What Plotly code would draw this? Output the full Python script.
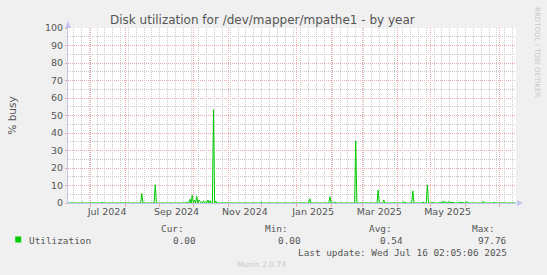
import pandas as pd
import plotly.graph_objects as go

# ---------------- data ----------------
range_start = "2024-06-11 02:05"
range_end = "2025-07-16 02:05"

# non-zero daily averages (% busy)
spike_dates = [
    "2024-06-24", "2024-07-11", "2024-08-16", "2024-08-28",
    "2024-09-25", "2024-09-28", "2024-09-30", "2024-10-02", "2024-10-04",
    "2024-10-06", "2024-10-07", "2024-10-10", "2024-10-12", "2024-10-14",
    "2024-10-16", "2024-10-19", "2024-10-21",
    "2024-11-30", "2025-01-13", "2025-01-31", "2025-02-04", "2025-02-23",
    "2025-03-15", "2025-03-20", "2025-04-06", "2025-04-07", "2025-04-08",
    "2025-04-15", "2025-04-24", "2025-04-28", "2025-05-02",
    "2025-05-09", "2025-05-11", "2025-05-13", "2025-05-15", "2025-05-17",
    "2025-05-19", "2025-05-21", "2025-05-24", "2025-05-27", "2025-05-29",
    "2025-06-02", "2025-06-17", "2025-06-26",
]
spike_values = [
    0.6, 0.5, 5.4, 10.4,
    0.7, 2.1, 4.4, 1.7, 3.8,
    1.7, 1.1, 1.3, 0.8, 1.7,
    1.3, 53.3, 1.1,
    0.5, 2.4, 3.6, 0.5, 35.4,
    7.4, 1.7, 0.5, 0.6, 0.5,
    6.9, 0.6, 10.3, 0.6,
    0.5, 0.8, 1.0, 0.7, 0.9,
    0.6, 0.7, 0.5, 0.8, 0.4,
    1.0, 1.0, 0.5,
]

month_starts = [
    "2024-07-01", "2024-08-01", "2024-09-01", "2024-10-01", "2024-11-01",
    "2024-12-01", "2025-01-01", "2025-02-01", "2025-03-01", "2025-04-01",
    "2025-05-01", "2025-06-01", "2025-07-01",
]
label_dates = ["2024-07-16", "2024-09-16", "2024-11-16", "2025-01-16", "2025-03-16", "2025-05-16"]
label_texts = ["Jul 2024", "Sep 2024", "Nov 2024", "Jan 2025", "Mar 2025", "May 2025"]

legend_name = "Utilization"
stat_names = ["Cur:", "Min:", "Avg:", "Max:"]
stat_values = ["0.00", "0.00", "0.54", "97.76"]

# daily series: days without a reading above are 0
days = pd.date_range("2024-06-11", "2025-07-16", freq="D")
series = pd.Series(0.0, index=days)
for d, v in zip(spike_dates, spike_values):
    series[pd.Timestamp(d)] = v

# ---------------- geometry helpers ----------------
W, H = 547, 275
L, R, T, B = 66, 516, 28, 203


def px(x):
    return (x - L) / (R - L)


def py(y):
    return (B - y) / (B - T)


RED = "#eeaaaa"
GRAY = "#cccccc"
AXIS = "#c4c4f0"
TXT = "#555555"
MONO = "DejaVu Sans Mono"
SANS = "DejaVu Sans"
DOT = "1px,1px"

fig = go.Figure()
fig.add_trace(go.Scatter(
    x=series.index, y=series.values, mode="lines",
    line=dict(color="#00cc00", width=1), showlegend=False, hoverinfo="skip",
))
fig.add_trace(go.Scatter(
    x=[range_start, range_end], y=[None, None], xaxis="x2",
    showlegend=False, hoverinfo="skip",
))

fig.update_layout(
    width=W, height=H,
    margin=dict(l=L, r=W - R, t=T, b=H - B, pad=0),
    paper_bgcolor="#f0f0f0", plot_bgcolor="#ffffff",
    font=dict(family=SANS, size=9, color=TXT),
    showlegend=False,
    xaxis=dict(
        range=[range_start, range_end], type="date",
        tickmode="array", tickvals=label_dates, ticktext=label_texts,
        showgrid=False, ticks="", zeroline=False,
        showline=True, linecolor=AXIS, linewidth=1, layer="below traces",
        tickfont=dict(family=SANS, size=9.5, color=TXT),
        minor=dict(tickmode="array", tickvals=month_starts, showgrid=True,
                   gridcolor=RED, griddash=DOT, gridwidth=1,
                   ticks="outside", ticklen=3, tickcolor=RED),
    ),
    xaxis2=dict(
        range=[range_start, range_end], type="date", overlaying="x", anchor="y",
        tick0="2024-06-16", dtick=7 * 86400000, showgrid=True,
        gridcolor=GRAY, griddash=DOT, gridwidth=1,
        showticklabels=False, ticks="", showline=False, zeroline=False,
    ),
    yaxis=dict(
        range=[0, 100], tickmode="linear", tick0=0, dtick=10,
        showgrid=True, gridcolor=RED, griddash=DOT, gridwidth=1,
        ticks="outside", ticklen=2, tickcolor=RED, zeroline=False,
        showline=True, linecolor=AXIS, linewidth=1, layer="below traces",
        tickfont=dict(family=SANS, size=9.5, color=TXT),
        minor=dict(dtick=5, showgrid=True, gridcolor=GRAY, griddash=DOT, gridwidth=1),
        title=dict(text="% busy", font=dict(family=SANS, size=10.5, color=TXT), standoff=26),
    ),
)

# axis arrows
fig.add_shape(type="path", xref="paper", yref="paper",
              path=f"M {px(63)} {py(28)} L {px(69)} {py(28)} L {px(66)} {py(21)} Z",
              fillcolor=AXIS, line=dict(width=0))
fig.add_shape(type="path", xref="paper", yref="paper",
              path=f"M {px(517)} {py(200)} L {px(517)} {py(206)} L {px(523)} {py(203)} Z",
              fillcolor=AXIS, line=dict(width=0))

ann = []
ann.append(dict(text="Disk utilization for /dev/mapper/mpathe1 - by year",
                x=px(261), y=py(19.5), xanchor="center", yanchor="middle",
                font=dict(family=SANS, size=12, color=TXT)))
ann.append(dict(text="RRDTOOL / TOBI OETIKER", x=px(537), y=py(5), xanchor="center", yanchor="top",
                textangle=90, font=dict(family=SANS, size=7, color="#c8c8c8")))

stat_right = [185, 289, 393, 497]
val_right = [197, 302, 405, 509]
for name, val, xr, xv in zip(stat_names, stat_values, stat_right, val_right):
    ann.append(dict(text=name, x=px(xr), y=py(228), xanchor="right", yanchor="middle",
                    font=dict(family=MONO, size=9.4, color=TXT)))
    ann.append(dict(text=val, x=px(xv), y=py(240), xanchor="right", yanchor="middle",
                    font=dict(family=MONO, size=9.4, color=TXT)))
ann.append(dict(text=legend_name, x=px(25), y=py(240), xanchor="left", yanchor="middle",
                font=dict(family=MONO, size=9.4, color=TXT)))
ann.append(dict(text="Last update: Wed Jul 16 02:05:06 2025", x=px(509), y=py(252),
                xanchor="right", yanchor="middle", font=dict(family=MONO, size=9.4, color=TXT)))
ann.append(dict(text="Munin 2.0.73", x=px(260.5), y=py(264), xanchor="center", yanchor="middle",
                font=dict(family=SANS, size=7.5, color="#c8c8c8")))
for a in ann:
    a.update(xref="paper", yref="paper", showarrow=False)
fig.update_layout(annotations=ann)

fig.add_shape(type="rect", xref="paper", yref="paper",
              x0=px(13), x1=px(19), y0=py(236.5), y1=py(242.5),
              fillcolor="#00cc00", line=dict(width=0))

fig.write_html("out.html")
